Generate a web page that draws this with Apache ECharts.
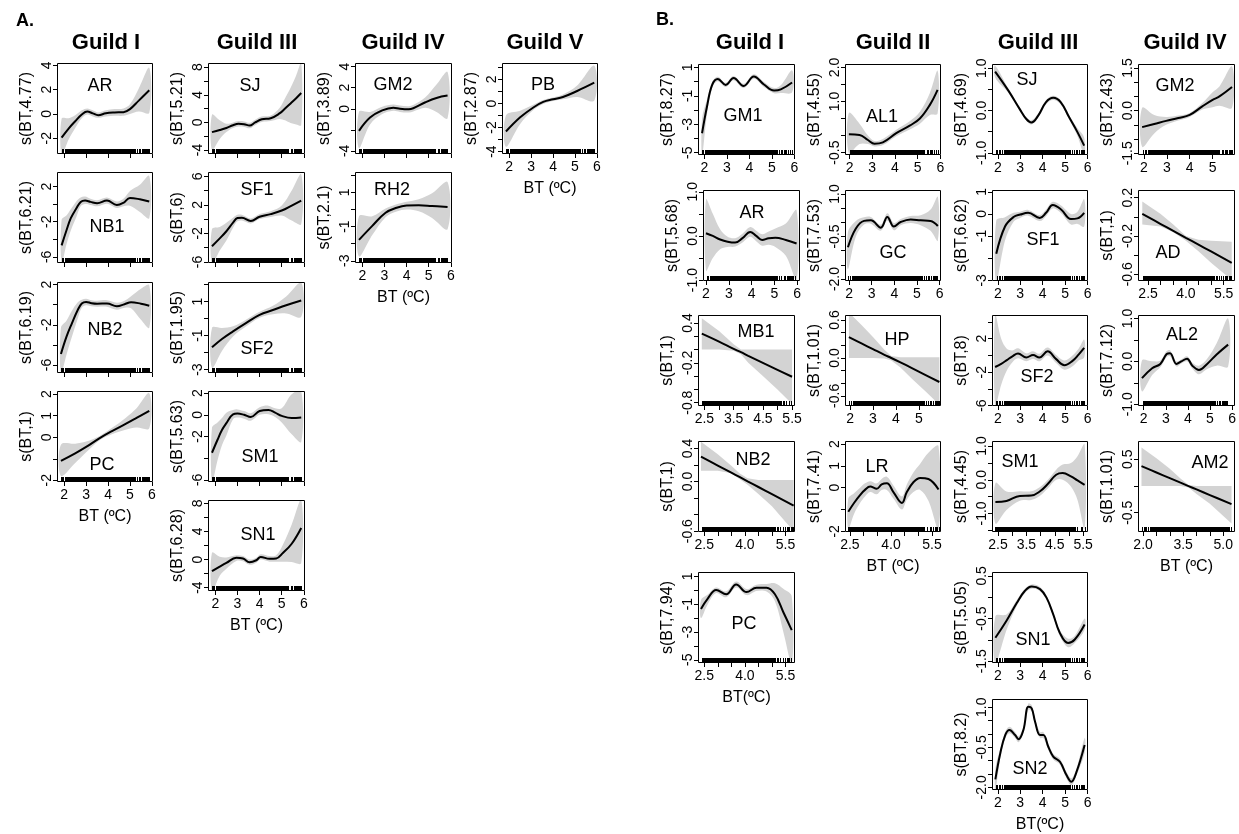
<!DOCTYPE html>
<html>
<head>
<meta charset="utf-8">
<script src="https://cdn.jsdelivr.net/npm/echarts@6/dist/echarts.min.js"></script>
<style>
html,body{margin:0;padding:0;background:#fff}
#chart{width:1239px;height:834px}
</style>
</head>
<body>
<div id="chart"></div>
<script>
// Observed bottom temperatures (rug marks)
const rugBT = [1.84,1.87,1.91,1.96,2.03,2.06,2.11,2.17,2.2,2.26,2.3,2.33,2.37,2.41,2.44,2.47,2.5,2.52,2.55,2.58,2.61,2.63,2.66,2.69,2.71,2.74,2.77,2.8,2.82,2.85,2.88,2.9,2.93,2.96,2.99,3.01,3.04,3.07,3.1,3.12,3.15,3.18,3.21,3.23,3.26,3.29,3.32,3.34,3.37,3.4,3.43,3.45,3.48,3.51,3.54,3.56,3.59,3.62,3.65,3.67,3.7,3.73,3.76,3.78,3.81,3.84,3.87,3.89,3.92,3.95,3.98,4.0,4.03,4.06,4.09,4.11,4.14,4.17,4.2,4.22,4.25,4.28,4.31,4.33,4.36,4.39,4.42,4.44,4.47,4.5,4.53,4.55,4.58,4.61,4.64,4.66,4.69,4.72,4.75,4.77,4.8,4.83,4.86,4.88,4.91,4.94,4.97,5.0,5.03,5.06,5.1,5.13,5.18,5.22,5.3,5.41,5.47,5.55,5.6,5.64,5.7,5.74,5.79,5.83,5.88];

// Shared x tick sets
const ticksInt2to6 = [2,3,4,5,6];
const ticksInt2to5 = [2,3,4,5];
const ticksHalf25to55 = [2.5,3,3.5,4,4.5,5,5.5];
const labels25_40_55 = [2.5,4.0,5.5];
const labels25_35_45_55 = [2.5,3.5,4.5,5.5];
const ticksHalf20to50 = [2,2.5,3,3.5,4,4.5,5];
const labels20_35_50 = [2.0,3.5,5.0];

// Section and guild headings
const sectionTitles = ['A.', 'B.'];
const guildTitlesA = ['Guild I', 'Guild III', 'Guild IV', 'Guild V'];
const guildTitlesB = ['Guild I', 'Guild II', 'Guild III', 'Guild IV'];

// ---------- A: smooth terms (x, fit, lower, upper) ----------
const aAR_x   = [1.88,2.2,2.5,2.8,3.05,3.3,3.55,3.9,4.3,4.7,5.0,5.4,5.88];
const aAR_fit = [-1.95,-1.2,-0.6,-0.05,0.2,0.05,-0.1,0.05,0.12,0.15,0.4,1.1,1.95];
const aAR_lo  = [-3.4,-2.1,-1.15,-0.35,-0.05,-0.2,-0.32,-0.2,-0.15,-0.15,0.0,0.2,0.1];
const aAR_hi  = [-0.4,-0.35,-0.1,0.3,0.45,0.3,0.12,0.3,0.4,0.45,0.8,2.1,3.8];
const aAR_yTicks = [-2,0,2,4];

const aNB1_x   = [1.88,2.1,2.3,2.55,2.75,2.95,3.2,3.5,3.95,4.4,4.7,5.0,5.45,5.88];
const aNB1_fit = [-4.7,-3.0,-1.6,-0.5,0.25,0.4,0.25,0.1,0.4,-0.1,0.15,0.7,0.55,0.3];
const aNB1_lo  = [-6.8,-4.6,-3.0,-1.5,-0.25,0.0,-0.1,-0.25,0.05,-0.45,-0.25,-0.2,-0.9,-1.6];
const aNB1_hi  = [-1.8,-1.3,-0.6,0.3,0.75,0.85,0.6,0.45,0.75,0.3,0.6,1.5,2.2,3.2];
const aNB1_yTicks = [-6,-4,-2,0,2];
const aNB1_yLabels = [-6,-2,2];

const aNB2_x   = [1.85,2.1,2.35,2.6,2.8,3.0,3.25,3.5,3.95,4.4,4.75,5.05,5.5,5.88];
const aNB2_fit = [-4.9,-3.2,-1.85,-0.6,0.12,0.28,0.15,0.1,0.12,-0.15,0.05,0.25,0.1,-0.1];
const aNB2_lo  = [-6.9,-5.0,-3.2,-1.5,-0.3,-0.05,-0.15,-0.2,-0.2,-0.5,-0.3,-0.35,-1.5,-2.3];
const aNB2_hi  = [-2.3,-1.6,-0.6,0.2,0.5,0.6,0.45,0.4,0.45,0.2,0.4,0.85,1.6,1.95];
const aNB2_yTicks = [-6,-4,-2,0,2];
const aNB2_yLabels = [-6,-2,2];

const aPC_x   = [1.85,2.5,3.0,3.6,4.2,4.8,5.3,5.88];
const aPC_fit = [-1.1,-0.75,-0.45,-0.05,0.3,0.62,0.9,1.23];
const aPC_lo  = [-1.8,-1.2,-0.7,-0.15,0.15,0.35,0.45,0.42];
const aPC_hi  = [-0.35,-0.3,-0.2,0.05,0.45,0.9,1.35,2.05];
const aPC_yTicks = [-2,-1,0,1,2];
const aPC_yLabels = [-2,0,1,2];

const aSJ_x   = [1.85,2.2,2.5,2.8,3.05,3.3,3.55,3.8,4.1,4.5,4.9,5.15,5.4,5.65,5.88];
const aSJ_fit = [-1.4,-1.1,-0.8,-0.4,-0.2,-0.25,-0.45,0.0,0.45,0.6,1.3,2.0,2.75,3.5,4.25];
const aSJ_lo  = [-4.0,-2.4,-1.4,-0.8,-0.6,-0.65,-0.85,-0.4,0.05,0.2,0.5,0.3,-0.1,-0.3,-0.4];
const aSJ_hi  = [1.1,0.3,-0.2,0.0,0.2,0.15,-0.05,0.4,0.85,1.0,2.1,3.5,5.0,6.8,8.6];
const aSJ_yTicks = [-4,-2,0,2,4,6,8];
const aSJ_yLabels = [-4,0,4,8];

const aSF1_x   = [1.85,2.2,2.5,2.8,3.0,3.2,3.6,4.0,4.5,5.0,5.45,5.88];
const aSF1_fit = [-3.8,-2.7,-1.7,-0.5,0.15,0.2,-0.25,0.33,0.7,1.2,1.9,2.6];
const aSF1_lo  = [-6.3,-4.4,-3.0,-1.2,-0.3,-0.2,-0.6,0.0,0.3,0.5,-0.2,-0.7];
const aSF1_hi  = [-1.4,-1.1,-0.5,0.2,0.6,0.6,0.1,0.7,1.1,1.9,4.0,6.3];
const aSF1_yTicks = [-6,-4,-2,0,2,4,6];
const aSF1_yLabels = [-6,-2,2,6];

const aSF2_x   = [1.85,2.3,2.8,3.4,4.0,4.6,5.2,5.88];
const aSF2_fit = [-1.69,-1.2,-0.75,-0.25,0.22,0.5,0.78,1.06];
const aSF2_lo  = [-2.9,-1.9,-1.05,-0.45,0.05,0.25,0.3,0.1];
const aSF2_hi  = [-0.55,-0.55,-0.45,-0.05,0.4,0.75,1.3,2.1];
const aSF2_yTicks = [-3,-2,-1,0,1,2];
const aSF2_yLabels = [-3,-1,1];

const aSM1_x   = [1.85,2.1,2.3,2.5,2.8,3.0,3.3,3.6,4.0,4.4,4.7,5.0,5.45,5.88];
const aSM1_fit = [-3.5,-2.3,-1.4,-0.77,0.05,0.12,0.0,-0.2,0.35,0.45,0.2,-0.1,-0.3,-0.25];
const aSM1_lo  = [-6.3,-4.2,-2.8,-1.9,-0.4,-0.25,-0.35,-0.55,0.0,0.05,-0.2,-0.7,-1.8,-2.5];
const aSM1_hi  = [-1.2,-0.7,-0.3,0.2,0.45,0.5,0.35,0.15,0.7,0.85,0.6,0.6,1.9,2.2];
const aSM1_yTicks = [-6,-4,-2,0,2];
const aSM1_yLabels = [-6,-2,0,2];

const aSN1_x   = [1.85,2.2,2.5,2.95,3.25,3.55,3.85,4.05,4.45,4.75,5.05,5.45,5.88];
const aSN1_fit = [-1.65,-1.0,-0.47,0.24,0.14,-0.38,-0.1,0.38,0.1,0.15,0.94,2.25,4.5];
const aSN1_lo  = [-4.6,-2.3,-1.3,-0.2,-0.25,-0.75,-0.45,0.0,-0.3,-0.3,-0.3,-0.35,-0.5];
const aSN1_hi  = [0.95,0.4,0.3,0.6,0.5,0.0,0.25,0.75,0.5,0.6,2.1,5.0,8.5];
const aSN1_yTicks = [-4,-2,0,2,4,6,8];
const aSN1_yLabels = [-4,0,4,8];

const aGM2_x   = [1.85,2.35,2.9,3.4,3.7,4.1,4.3,4.85,5.35,5.85];
const aGM2_fit = [-2.1,-0.84,-0.16,0.1,0.0,-0.05,0.05,0.62,1.03,1.25];
const aGM2_lo  = [-3.75,-1.5,-0.5,-0.2,-0.3,-0.35,-0.25,0.1,-0.3,-0.9];
const aGM2_hi  = [-0.3,-0.3,0.2,0.4,0.3,0.25,0.35,1.1,2.3,3.5];
const aGM2_yTicks = [-4,-2,0,2,4];
const aGM2_yLabels = [-4,0,2,4];

const aRH2_x   = [1.85,2.45,3.05,3.55,4.0,4.55,5.15,5.85];
const aRH2_fit = [-1.78,-0.96,-0.19,0.1,0.23,0.25,0.2,0.14];
const aRH2_lo  = [-2.75,-1.5,-0.45,-0.12,0.0,-0.1,-0.5,-1.15];
const aRH2_hi  = [-0.4,-0.4,0.05,0.3,0.45,0.6,0.95,1.6];
const aRH2_yTicks = [-3,-2,-1,0,1,2];
const aRH2_yLabels = [-3,-1,1];

const aPB_x   = [1.85,2.5,3.1,3.55,4.0,4.45,5.1,5.88];
const aPB_fit = [-2.33,-1.15,-0.33,0.13,0.35,0.54,1.04,1.73];
const aPB_lo  = [-3.6,-1.7,-0.55,-0.05,0.2,0.35,0.55,0.25];
const aPB_hi  = [-1.0,-0.6,-0.1,0.3,0.5,0.75,1.5,3.15];
const aPB_yTicks = [-4,-3,-2,-1,0,1,2,3];
const aPB_yLabels = [-4,-2,0,2];

// ---------- B: smooth terms ----------
const bGM1_x   = [1.9,2.12,2.35,2.6,2.95,3.3,3.75,4.2,4.65,5.1,5.4,5.9];
const bGM1_fit = [-3.63,-1.75,-0.23,0.18,-0.23,0.25,-0.3,0.36,-0.2,-0.63,-0.55,-0.06];
const bGM1_lo  = [-5.3,-2.3,-0.45,0.02,-0.38,0.1,-0.45,0.2,-0.38,-0.82,-0.8,-0.75];
const bGM1_hi  = [-2.6,-1.25,0.0,0.35,-0.08,0.4,-0.15,0.52,-0.02,-0.45,-0.25,0.8];
const bGM1_yTicks = [-5,-4,-3,-2,-1,0,1];
const bGM1_yLabels = [-5,-3,-1,1];

const bAL1_x   = [1.97,2.44,2.81,3.1,3.47,4.06,4.65,5.1,5.54,5.88];
const bAL1_fit = [0.04,0.02,-0.13,-0.24,-0.2,0.07,0.29,0.5,0.9,1.34];
const bAL1_lo  = [-0.52,-0.25,-0.25,-0.32,-0.28,-0.02,0.18,0.35,0.6,0.65];
const bAL1_hi  = [0.66,0.35,0.0,-0.16,-0.1,0.17,0.42,0.7,1.25,1.9];
const bAL1_yTicks = [-0.5,0,0.5,1.0,1.5,2.0];
const bAL1_yLabels = [-0.5,1.0,2.0];

const bSJ_x   = [1.88,2.47,2.97,3.27,3.5,3.8,4.15,4.47,4.8,5.18,5.55,5.85];
const bSJ_fit = [0.92,0.47,0.04,-0.2,-0.28,-0.12,0.2,0.3,0.2,-0.16,-0.51,-0.83];
const bSJ_lo  = [0.78,0.42,0.0,-0.24,-0.33,-0.17,0.15,0.25,0.15,-0.21,-0.6,-1.06];
const bSJ_hi  = [1.06,0.52,0.08,-0.16,-0.23,-0.07,0.25,0.35,0.25,-0.11,-0.42,-0.64];
const bSJ_yTicks = [-1,-0.5,0,0.5,1];
const bSJ_yLabels = [-1,0,1];

const bGM2_x   = [1.92,2.45,2.97,3.5,4.0,4.55,5.0,5.3,5.85];
const bGM2_fit = [-0.58,-0.47,-0.36,-0.26,-0.15,0.15,0.38,0.5,0.83];
const bGM2_lo  = [-1.27,-0.8,-0.5,-0.35,-0.22,0.04,0.12,0.17,0.1];
const bGM2_hi  = [0.1,-0.15,-0.22,-0.17,-0.08,0.27,0.65,0.85,1.55];
const bGM2_yTicks = [-1.5,-1,-0.5,0,0.5,1,1.5];
const bGM2_yLabels = [-1.5,0,1.5];

const bAR_x   = [2.0,2.3,2.62,2.95,3.28,3.6,3.94,4.2,4.46,4.75,5.04,5.5,5.97];
const bAR_fit = [0.06,0.0,-0.08,-0.13,-0.15,-0.05,0.09,0.0,-0.09,-0.05,-0.04,-0.09,-0.17];
const bAR_lo  = [-0.78,-0.5,-0.3,-0.25,-0.24,-0.15,-0.02,-0.12,-0.22,-0.2,-0.25,-0.45,-1.0];
const bAR_hi  = [0.82,0.5,0.15,-0.02,-0.05,0.05,0.2,0.12,0.04,0.1,0.17,0.28,0.58];
const bAR_yTicks = [-1,-0.5,0,0.5,1];
const bAR_yLabels = [-1,0,1];

const bGC_x   = [1.95,2.3,2.66,2.96,3.4,3.69,3.98,4.28,4.72,5.16,5.6,5.92];
const bGC_fit = [-0.88,-0.22,0.05,0.07,-0.19,0.19,-0.15,0.01,0.1,0.07,0.05,-0.13];
const bGC_lo  = [-1.65,-0.5,-0.08,-0.05,-0.3,0.06,-0.28,-0.1,-0.02,-0.1,-0.3,-0.65];
const bGC_hi  = [-0.35,0.05,0.18,0.19,-0.08,0.32,-0.02,0.12,0.22,0.25,0.45,0.9];
const bGC_yTicks = [-2,-1.5,-1,-0.5,0,0.5,1];
const bGC_yLabels = [-2,-0.5,1];

const bSF1_x   = [1.93,2.32,2.7,3.0,3.35,3.87,4.15,4.45,4.82,5.26,5.55,5.85];
const bSF1_fit = [-1.8,-0.57,-0.14,-0.03,0.05,-0.18,0.05,0.4,0.2,-0.23,-0.2,0.05];
const bSF1_lo  = [-3.1,-1.2,-0.35,-0.18,-0.08,-0.32,-0.1,0.25,0.03,-0.48,-0.45,-0.57];
const bSF1_hi  = [-0.3,-0.15,0.05,0.1,0.18,-0.05,0.2,0.55,0.38,0.0,0.1,0.66];
const bSF1_yTicks = [-3,-2,-1,0,1];
const bSF1_yLabels = [-3,-1,0,1];

const bAD_x   = [2.27,3.0,3.5,4.0,4.5,5.0,5.82];
const bAD_fit = [0.03,-0.075,-0.147,-0.219,-0.29,-0.362,-0.48];
const bAD_lo  = [-0.08,-0.1,-0.16,-0.25,-0.36,-0.48,-0.66];
const bAD_hi  = [0.16,0.03,-0.08,-0.2,-0.24,-0.25,-0.26];
const bAD_yTicks = [-0.6,-0.4,-0.2,0,0.2];
const bAD_yLabels = [-0.6,-0.2,0.2];

const bMB1_x   = [2.41,3.0,3.5,3.75,4.0,4.5,5.0,5.5];
const bMB1_fit = [0.24,0.12,0.01,-0.04,-0.095,-0.2,-0.305,-0.41];
const bMB1_lo  = [0.0,0.0,-0.02,-0.07,-0.2,-0.4,-0.6,-0.82];
const bMB1_hi  = [0.47,0.28,0.08,0.0,0.0,0.0,0.0,0.0];
const bMB1_yTicks = [-0.8,-0.6,-0.4,-0.2,0,0.2,0.4];
const bMB1_yLabels = [-0.8,-0.2,0.4];

const bHP_x   = [1.95,2.5,3.0,3.5,3.8,4.2,4.7,5.3,5.9];
const bHP_fit = [0.33,0.23,0.14,0.05,0.0,-0.07,-0.16,-0.27,-0.38];
const bHP_lo  = [0.0,0.0,0.0,-0.01,-0.04,-0.15,-0.33,-0.53,-0.74];
const bHP_hi  = [0.72,0.52,0.33,0.13,0.03,0.01,0.01,0.01,0.01];
const bHP_yTicks = [-0.6,-0.4,-0.2,0,0.2,0.4,0.6];
const bHP_yLabels = [-0.6,0,0.6];

const bSF2_x   = [1.88,2.15,2.4,2.65,2.9,3.27,3.57,3.85,4.22,4.6,4.97,5.33,5.6,5.85];
const bSF2_fit = [-1.38,-1.0,-0.56,-0.1,0.24,-0.24,0.05,-0.24,0.49,-0.44,-1.17,-0.65,0.1,0.9];
const bSF2_lo  = [-6.1,-3.5,-1.8,-0.8,-0.35,-0.7,-0.4,-0.7,0.0,-0.9,-1.7,-1.3,-0.6,-0.25];
const bSF2_hi  = [4.9,2.0,0.8,0.6,0.85,0.25,0.5,0.2,0.95,0.05,-0.6,0.0,0.8,1.9];
const bSF2_yTicks = [-6,-4,-2,0,2,4];
const bSF2_yLabels = [-6,-2,2];

const bAL2_x   = [1.92,2.38,2.75,3.04,3.19,3.48,3.7,3.96,4.2,4.5,4.87,5.3,5.82];
const bAL2_fit = [-0.39,-0.16,-0.06,0.17,0.19,-0.06,0.0,0.06,-0.1,-0.2,-0.06,0.16,0.39];
const bAL2_lo  = [-0.7,-0.32,-0.14,0.1,0.12,-0.12,-0.05,0.0,-0.17,-0.3,-0.18,-0.1,-0.12];
const bAL2_hi  = [0.02,0.0,0.02,0.24,0.26,0.0,0.05,0.12,-0.03,-0.1,0.06,0.42,1.0];
const bAL2_yTicks = [-1,-0.5,0,0.5,1];
const bAL2_yLabels = [-1,0,1];

const bNB2_x   = [2.38,3.0,3.5,3.8,4.1,4.5,5.0,5.8];
const bNB2_fit = [0.3,0.193,0.107,0.055,0.003,-0.066,-0.152,-0.29];
const bNB2_lo  = [0.13,0.13,0.1,0.03,-0.04,-0.15,-0.3,-0.6];
const bNB2_hi  = [0.48,0.33,0.19,0.1,0.04,0.02,0.02,0.02];
const bNB2_yTicks = [-0.6,-0.4,-0.2,0,0.2,0.4];
const bNB2_yLabels = [-0.6,0,0.4];

const bLR_x   = [2.44,2.65,2.87,3.05,3.24,3.48,3.66,3.85,4.09,4.4,4.58,4.82,5.07,5.37,5.74];
const bLR_fit = [-1.1,-0.7,-0.34,-0.1,0.05,-0.05,0.15,0.2,-0.2,-0.7,-0.2,0.25,0.45,0.4,-0.08];
const bLR_lo  = [-1.9,-1.2,-0.7,-0.4,-0.2,-0.3,-0.1,-0.1,-0.5,-1.0,-0.55,-0.2,-0.1,-0.6,-1.9];
const bLR_hi  = [-0.5,-0.25,0.0,0.2,0.3,0.2,0.4,0.5,0.1,-0.4,0.15,0.7,1.1,1.6,1.9];
const bLR_yTicks = [-2,-1,0,1,2];
const bLR_yLabels = [-2,0,1,2];

const bSM1_x   = [2.41,2.8,3.27,3.67,3.97,4.26,4.55,4.78,5.07,5.3,5.55];
const bSM1_fit = [-0.66,-0.63,-0.48,-0.47,-0.35,-0.12,0.15,0.2,0.1,-0.02,-0.15];
const bSM1_lo  = [-1.3,-0.9,-0.62,-0.6,-0.48,-0.25,0.0,0.0,-0.2,-0.6,-1.45];
const bSM1_hi  = [-0.1,-0.35,-0.34,-0.34,-0.22,0.0,0.3,0.45,0.5,0.7,1.05];
const bSM1_yTicks = [-1.5,-1,-0.5,0,0.5,1];
const bSM1_yLabels = [-1,0,1];

const bAM2_x   = [1.94,2.5,3.0,3.4,3.7,4.0,4.5,5.31];
const bAM2_fit = [0.37,0.252,0.146,0.061,-0.002,-0.065,-0.17,-0.34];
const bAM2_lo  = [0.0,0.0,0.0,0.0,-0.03,-0.15,-0.33,-0.7];
const bAM2_hi  = [0.72,0.52,0.32,0.14,0.02,0.0,0.0,0.0];
const bAM2_yTicks = [-0.5,0,0.5];
const bAM2_yLabels = [-0.5,0.5];

const bPC_x   = [2.38,2.63,2.94,3.31,3.68,4.06,4.43,4.8,5.11,5.42,5.73];
const bPC_fit = [-1.35,-0.6,0.01,-0.29,0.42,-0.13,0.18,0.18,-0.29,-1.58,-2.87];
const bPC_lo  = [-2.0,-1.0,-0.2,-0.5,0.2,-0.35,-0.05,-0.1,-0.8,-3.0,-5.3];
const bPC_hi  = [-0.7,-0.3,0.2,-0.08,0.62,0.08,0.4,0.45,0.5,0.1,-0.45];
const bPC_yTicks = [-5,-4,-3,-2,-1,0,1];
const bPC_yLabels = [-5,-3,-1,1];

const bSN1_x   = [1.89,2.4,2.85,3.21,3.51,3.88,4.17,4.47,4.76,5.13,5.43,5.87];
const bSN1_fit = [-0.95,-0.54,-0.13,0.15,0.25,0.19,-0.01,-0.4,-0.83,-1.07,-0.99,-0.64];
const bSN1_lo  = [-1.55,-0.75,-0.2,0.1,0.2,0.14,-0.06,-0.45,-0.9,-1.17,-1.07,-0.76];
const bSN1_hi  = [-0.45,-0.4,-0.06,0.2,0.3,0.24,0.04,-0.35,-0.77,-0.97,-0.9,-0.5];
const bSN1_yTicks = [-1.5,-1,-0.5,0,0.5];
const bSN1_yLabels = [-1.5,-0.5,0.5];

const bSN2_x   = [1.89,2.11,2.33,2.52,2.77,2.92,3.14,3.36,3.51,3.66,3.88,4.03,4.25,4.47,4.77,5.06,5.28,5.5,5.87];
const bSN2_fit = [-1.7,-0.72,-0.04,0.15,-0.04,-0.2,0.15,1.02,0.96,0.46,-0.04,-0.04,-0.48,-0.85,-1.04,-1.54,-1.79,-1.44,-0.41];
const bSN2_lo  = [-2.15,-0.9,-0.16,0.03,-0.15,-0.31,0.04,0.9,0.84,0.35,-0.15,-0.15,-0.59,-0.96,-1.15,-1.66,-1.92,-1.56,-0.7];
const bSN2_hi  = [-1.3,-0.55,0.08,0.27,0.07,-0.09,0.26,1.14,1.08,0.57,0.07,0.07,-0.37,-0.74,-0.93,-1.42,-1.66,-1.32,-0.15];
const bSN2_yTicks = [-2,-1.5,-1,-0.5,0,0.5,1];
const bSN2_yLabels = [-2,-0.5,1];

// ---------- layout ----------
const FONT = '"Liberation Sans", Arial, Helvetica, sans-serif';
const A_COL = [57, 208, 355, 502], A_W = [96, 97, 97, 96];
const A_ROW = [63, 172, 282, 391, 500];
const B_COL = [698, 845, 992, 1138], B_W = [97, 96, 96, 97];
const B_ROW = [64, 190, 315, 441, 572, 699];
const PANEL_H = 91;
const BT_NAME = 'BT (ºC)', BT_NAME2 = 'BT(ºC)';
const xrA = [1.67, 6.05];
const TICK_FONT = 14;

function P(g, c, r, label, yName, d, cfg) {
  return Object.assign({g, c, r, label, yName, x: d[0], fit: d[1], lo: d[2], hi: d[3]}, cfg);
}

const panels = [
  // A, Guild I
  P('A',0,0,'AR','s(BT,4.77)',[aAR_x,aAR_fit,aAR_lo,aAR_hi],{xr:xrA,xt:ticksInt2to6,xl:null,yr:[-3.3,4.2],yt:aAR_yTicks,yl:aAR_yTicks,yd:0,lp:[100,86]}),
  P('A',0,1,'NB1','s(BT,6.21)',[aNB1_x,aNB1_fit,aNB1_lo,aNB1_hi],{xr:xrA,xt:ticksInt2to6,xl:null,yr:[-6.7,3.65],yt:aNB1_yTicks,yl:aNB1_yLabels,yd:0,lp:[107,227]}),
  P('A',0,2,'NB2','s(BT,6.19)',[aNB2_x,aNB2_fit,aNB2_lo,aNB2_hi],{xr:xrA,xt:ticksInt2to6,xl:null,yr:[-6.8,2.26],yt:aNB2_yTicks,yl:aNB2_yLabels,yd:0,lp:[105,330]}),
  P('A',0,3,'PC','s(BT,1)',[aPC_x,aPC_fit,aPC_lo,aPC_hi],{xr:xrA,xt:ticksInt2to6,xl:ticksInt2to6,xn:BT_NAME,yr:[-2.08,2.15],yt:aPC_yTicks,yl:aPC_yLabels,yd:0,lp:[102,465]}),
  // A, Guild III
  P('A',1,0,'SJ','s(BT,5.21)',[aSJ_x,aSJ_fit,aSJ_lo,aSJ_hi],{xr:xrA,xt:ticksInt2to6,xl:null,yr:[-4.57,8.6],yt:aSJ_yTicks,yl:aSJ_yLabels,yd:0,lp:[250,86]}),
  P('A',1,1,'SF1','s(BT,6)',[aSF1_x,aSF1_fit,aSF1_lo,aSF1_hi],{xr:xrA,xt:ticksInt2to6,xl:null,yr:[-6.15,6.6],yt:aSF1_yTicks,yl:aSF1_yLabels,yd:0,lp:[257,190]}),
  P('A',1,2,'SF2','s(BT,1.95)',[aSF2_x,aSF2_fit,aSF2_lo,aSF2_hi],{xr:xrA,xt:ticksInt2to6,xl:null,yr:[-3.2,2.15],yt:aSF2_yTicks,yl:aSF2_yLabels,yd:0,lp:[257,349]}),
  P('A',1,3,'SM1','s(BT,5.63)',[aSM1_x,aSM1_fit,aSM1_lo,aSM1_hi],{xr:xrA,xt:ticksInt2to6,xl:null,yr:[-6.2,2.2],yt:aSM1_yTicks,yl:aSM1_yLabels,yd:0,lp:[260,457]}),
  P('A',1,4,'SN1','s(BT,6.28)',[aSN1_x,aSN1_fit,aSN1_lo,aSN1_hi],{xr:xrA,xt:ticksInt2to6,xl:ticksInt2to6,xn:BT_NAME,yr:[-4.48,8.48],yt:aSN1_yTicks,yl:aSN1_yLabels,yd:0,lp:[258,535]}),
  // A, Guild IV
  P('A',2,0,'GM2','s(BT,3.89)',[aGM2_x,aGM2_fit,aGM2_lo,aGM2_hi],{xr:xrA,xt:ticksInt2to6,xl:null,yr:[-4.3,4.35],yt:aGM2_yTicks,yl:aGM2_yLabels,yd:0,lp:[393,85]}),
  P('A',2,1,'RH2','s(BT,2.1)',[aRH2_x,aRH2_fit,aRH2_lo,aRH2_hi],{xr:xrA,xt:ticksInt2to6,xl:ticksInt2to6,xn:BT_NAME,yr:[-3.13,2.19],yt:aRH2_yTicks,yl:aRH2_yLabels,yd:0,lp:[392,190]}),
  // A, Guild V
  P('A',3,0,'PB','s(BT,2.87)',[aPB_x,aPB_fit,aPB_lo,aPB_hi],{xr:xrA,xt:ticksInt2to6,xl:ticksInt2to6,xn:BT_NAME,yr:[-4.2,3.37],yt:aPB_yTicks,yl:aPB_yLabels,yd:0,lp:[543,85]}),

  // B, Guild I
  P('B',0,0,'GM1','s(BT,8.27)',[bGM1_x,bGM1_fit,bGM1_lo,bGM1_hi],{xr:[1.72,6.03],xt:ticksInt2to6,xl:ticksInt2to6,yr:[-5.16,1.24],yt:bGM1_yTicks,yl:bGM1_yLabels,yd:0,lp:[743,116]}),
  P('B',0,1,'AR','s(BT,5.68)',[bAR_x,bAR_fit,bAR_lo,bAR_hi],{dx:5,xr:[1.87,6.12],xt:ticksInt2to6,xl:ticksInt2to6,yr:[-1.02,1.04],yt:bAR_yTicks,yl:bAR_yLabels,yd:1,lp:[752,213]}),
  P('B',0,2,'MB1','s(BT,1)',[bMB1_x,bMB1_fit,bMB1_lo,bMB1_hi],{bs:0,xr:[2.28,5.6],xt:ticksHalf25to55,xl:labels25_35_45_55,xd:1,yr:[-0.85,0.52],yt:bMB1_yTicks,yl:bMB1_yLabels,yd:1,lp:[756,332]}),
  P('B',0,3,'NB2','s(BT,1)',[bNB2_x,bNB2_fit,bNB2_lo,bNB2_hi],{bs:0,xr:[2.27,5.85],xt:ticksHalf25to55,xl:labels25_40_55,xd:1,yr:[-0.61,0.49],yt:bNB2_yTicks,yl:bNB2_yLabels,yd:1,lp:[753,460]}),
  P('B',0,4,'PC','s(BT,7.94)',[bPC_x,bPC_fit,bPC_lo,bPC_hi],{xr:[2.27,5.85],xt:ticksHalf25to55,xl:labels25_40_55,xd:1,xn:BT_NAME2,yr:[-5.23,1.31],yt:bPC_yTicks,yl:bPC_yLabels,yd:0,lp:[744,624]}),
  // B, Guild II
  P('B',1,0,'AL1','s(BT,4.55)',[bAL1_x,bAL1_fit,bAL1_lo,bAL1_hi],{xr:[1.8,6.03],xt:ticksInt2to6,xl:ticksInt2to6,yr:[-0.57,2.1],yt:bAL1_yTicks,yl:bAL1_yLabels,yd:1,lp:[882,117]}),
  P('B',1,1,'GC','s(BT,7.53)',[bGC_x,bGC_fit,bGC_lo,bGC_hi],{xr:[1.82,6.06],xt:ticksInt2to6,xl:ticksInt2to6,yr:[-2.07,1.14],yt:bGC_yTicks,yl:bGC_yLabels,yd:1,lp:[893,253]}),
  P('B',1,2,'HP','s(BT,1.01)',[bHP_x,bHP_fit,bHP_lo,bHP_hi],{bs:0,xr:[1.78,5.97],xt:ticksInt2to5,xl:ticksInt2to5,yr:[-0.76,0.68],yt:bHP_yTicks,yl:bHP_yLabels,yd:1,lp:[897,340]}),
  P('B',1,3,'LR','s(BT,7.41)',[bLR_x,bLR_fit,bLR_lo,bLR_hi],{xr:[2.32,5.83],xt:ticksHalf25to55,xl:labels25_40_55,xd:1,xn:BT_NAME,yr:[-2.03,2.14],yt:bLR_yTicks,yl:bLR_yLabels,yd:0,lp:[877,467]}),
  // B, Guild III
  P('B',2,0,'SJ','s(BT,4.69)',[bSJ_x,bSJ_fit,bSJ_lo,bSJ_hi],{xr:[1.74,6.02],xt:ticksInt2to6,xl:ticksInt2to6,yr:[-1.05,1.1],yt:bSJ_yTicks,yl:bSJ_yLabels,yd:1,lp:[1027,80]}),
  P('B',2,1,'SF1','s(BT,6.62)',[bSF1_x,bSF1_fit,bSF1_lo,bSF1_hi],{xr:[1.74,6.02],xt:ticksInt2to6,xl:ticksInt2to6,yr:[-3.03,1.08],yt:bSF1_yTicks,yl:bSF1_yLabels,yd:0,lp:[1043,240]}),
  P('B',2,2,'SF2','s(BT,8)',[bSF2_x,bSF2_fit,bSF2_lo,bSF2_hi],{xr:[1.74,6.02],xt:ticksInt2to6,xl:ticksInt2to6,yr:[-6.05,4.84],yt:bSF2_yTicks,yl:bSF2_yLabels,yd:0,lp:[1037,377]}),
  P('B',2,3,'SM1','s(BT,4.45)',[bSM1_x,bSM1_fit,bSM1_lo,bSM1_hi],{xr:[2.29,5.67],xt:ticksHalf25to55,xl:labels25_35_45_55,xd:1,yr:[-1.55,1.15],yt:bSM1_yTicks,yl:bSM1_yLabels,yd:1,lp:[1020,462]}),
  P('B',2,4,'SN1','s(BT,5.05)',[bSN1_x,bSN1_fit,bSN1_lo,bSN1_hi],{xr:[1.74,6.02],xt:ticksInt2to6,xl:ticksInt2to6,yr:[-1.54,0.59],yt:bSN1_yTicks,yl:bSN1_yLabels,yd:1,lp:[1033,640]}),
  P('B',2,5,'SN2','s(BT,8.2)',[bSN2_x,bSN2_fit,bSN2_lo,bSN2_hi],{xr:[1.74,6.02],xt:ticksInt2to6,xl:ticksInt2to6,xn:BT_NAME2,yr:[-2.1,1.31],yt:bSN2_yTicks,yl:bSN2_yLabels,yd:1,lp:[1030,769]}),
  // B, Guild IV
  P('B',3,0,'GM2','s(BT,2.43)',[bGM2_x,bGM2_fit,bGM2_lo,bGM2_hi],{xr:[1.74,5.98],xt:ticksInt2to5,xl:ticksInt2to5,yr:[-1.56,1.64],yt:bGM2_yTicks,yl:bGM2_yLabels,yd:1,lp:[1175,86]}),
  P('B',3,1,'AD','s(BT,1)',[bAD_x,bAD_fit,bAD_lo,bAD_hi],{bs:0,xr:[2.1,5.95],xt:ticksHalf25to55,xl:labels25_40_55,xd:1,yr:[-0.67,0.28],yt:bAD_yTicks,yl:bAD_yLabels,yd:1,lp:[1168,253]}),
  P('B',3,2,'AL2','s(BT,7.12)',[bAL2_x,bAL2_fit,bAL2_lo,bAL2_hi],{xr:[1.74,6.02],xt:ticksInt2to6,xl:ticksInt2to6,yr:[-1.04,1.08],yt:bAL2_yTicks,yl:bAL2_yLabels,yd:1,lp:[1182,335]}),
  P('B',3,3,'AM2','s(BT,1.01)',[bAM2_x,bAM2_fit,bAM2_lo,bAM2_hi],{bs:0,xr:[1.81,5.44],xt:ticksHalf20to50,xl:labels20_35_50,xd:1,xn:BT_NAME,yr:[-0.86,0.84],yt:bAM2_yTicks,yl:bAM2_yLabels,yd:1,lp:[1210,463]})
];

const grids = [], xAxes = [], yAxes = [], series = [], elements = [];

panels.forEach((p, i) => {
  const left = (p.g === 'A' ? A_COL[p.c] : B_COL[p.c]) + (p.dx || 0);
  const width = p.g === 'A' ? A_W[p.c] : B_W[p.c];
  const top = p.g === 'A' ? A_ROW[p.r] : B_ROW[p.r];
  const height = PANEL_H;
  const bandSmooth = p.bs === undefined ? 0.35 : p.bs;
  grids.push({left, top, width, height, containLabel: false});

  xAxes.push({
    gridIndex: i, type: 'value', min: p.xr[0], max: p.xr[1],
    axisLine: {show: false, onZero: false}, splitLine: {show: false},
    axisTick: {show: true, length: 4, lineStyle: {color: '#000', width: 1}, customValues: p.xt},
    axisLabel: {show: !!p.xl, customValues: p.xl || p.xt, margin: 6, color: '#000',
      fontSize: TICK_FONT, fontFamily: FONT, formatter: v => Number(v).toFixed(p.xd || 0)},
    name: p.xn || '', nameLocation: 'middle', nameGap: 27,
    nameTextStyle: {color: '#000', fontSize: 16, fontFamily: FONT}
  });

  yAxes.push({
    gridIndex: i, type: 'value', min: p.yr[0], max: p.yr[1],
    axisLine: {show: false, onZero: false}, splitLine: {show: false},
    axisTick: {show: true, length: 4, lineStyle: {color: '#000', width: 1}, customValues: p.yt},
    axisLabel: {show: true, customValues: p.yl, rotate: 90, margin: 3, color: '#000',
      fontSize: TICK_FONT, fontFamily: FONT, formatter: v => Number(v).toFixed(p.yd || 0)},
    name: p.yName, nameLocation: 'middle', nameGap: 22, nameRotate: 90,
    nameTextStyle: {color: '#000', fontSize: 16, fontFamily: FONT}
  });

  const bandRows = p.x.map((v, k) => [v, p.lo[k], p.hi[k]]);
  const fitted = p.x.map((v, k) => [v, p.fit[k]]);
  const xMin = p.x[0], xMax = p.x[p.x.length - 1];
  const rug = rugBT.filter(v => v >= xMin && v <= xMax);

  // confidence band: one closed outline through upper then lower bounds
  series.push({
    type: 'custom', xAxisIndex: i, yAxisIndex: i, silent: true, clip: true, z: 1,
    data: bandRows, encode: {x: 0, y: [1, 2]},
    renderItem: (params, api) => {
      if (params.dataIndex !== 0) return null;
      const upper = bandRows.map(r => api.coord([r[0], r[2]]));
      const lower = bandRows.map(r => api.coord([r[0], r[1]])).reverse();
      return {type: 'polygon', shape: {points: upper.concat(lower), smooth: bandSmooth},
        style: {fill: '#d3d3d3', stroke: null}};
    }
  });
  series.push({
    type: 'line', xAxisIndex: i, yAxisIndex: i, data: fitted, symbol: 'none', smooth: 0.4,
    lineStyle: {color: '#000', width: 2}, silent: true, z: 3
  });
  series.push({
    type: 'custom', xAxisIndex: i, yAxisIndex: i, silent: true, z: 4,
    data: rug.map(v => [v, p.yr[0]]), encode: {x: 0, y: 1},
    renderItem: (params, api) => {
      const pt = api.coord([api.value(0), api.value(1)]);
      const xx = Math.round(pt[0]) + 0.5;
      return {type: 'line', shape: {x1: xx, y1: pt[1], x2: xx, y2: pt[1] - 5},
        style: {stroke: '#000', lineWidth: 1}};
    }
  });

  // plot frame
  elements.push({type: 'rect', silent: true, z: 20,
    shape: {x: left + 0.5, y: top + 0.5, width: width - 1, height: height - 1},
    style: {fill: 'none', stroke: '#000', lineWidth: 1}});
  // species label
  elements.push({type: 'text', silent: true, z: 20, x: p.lp[0], y: p.lp[1],
    style: {text: p.label, fill: '#000', font: '18px ' + FONT,
      textAlign: 'center', textVerticalAlign: 'middle', align: 'center', verticalAlign: 'middle'}});
});

// headings
const headA = [106, 257, 403, 545], headB = [750, 893, 1038, 1185];
guildTitlesA.forEach((t, k) => elements.push({type: 'text', silent: true, x: headA[k], y: 43,
  style: {text: t, fill: '#000', font: 'bold 22px ' + FONT, textAlign: 'center', textVerticalAlign: 'middle', align: 'center', verticalAlign: 'middle'}}));
guildTitlesB.forEach((t, k) => elements.push({type: 'text', silent: true, x: headB[k], y: 43,
  style: {text: t, fill: '#000', font: 'bold 22px ' + FONT, textAlign: 'center', textVerticalAlign: 'middle', align: 'center', verticalAlign: 'middle'}}));
[[16, 21], [656, 20]].forEach((pos, k) => elements.push({type: 'text', silent: true, x: pos[0], y: pos[1],
  style: {text: sectionTitles[k], fill: '#000', font: 'bold 18px ' + FONT, textAlign: 'left', textVerticalAlign: 'middle', align: 'left', verticalAlign: 'middle'}}));

const chart = echarts.init(document.getElementById('chart'), null, {renderer: 'canvas'});
chart.setOption({
  animation: false,
  backgroundColor: '#fff',
  textStyle: {fontFamily: FONT},
  grid: grids, xAxis: xAxes, yAxis: yAxes, series: series,
  graphic: {elements: elements}
});
</script>
</body>
</html>
